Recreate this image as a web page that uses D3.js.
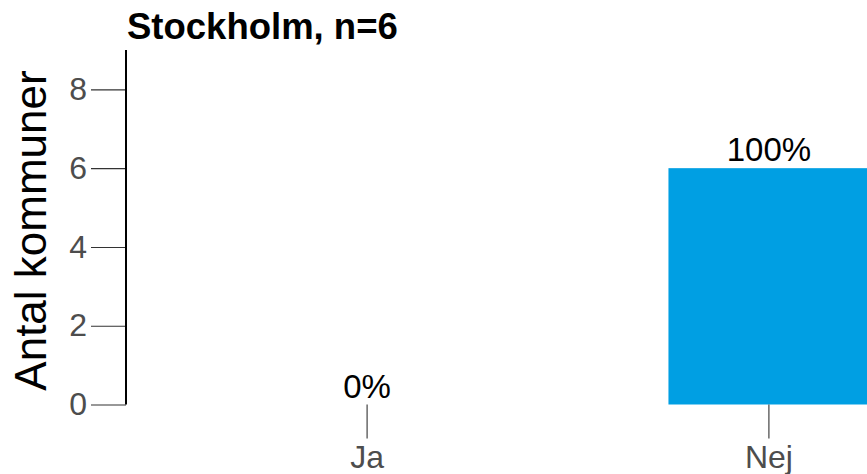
<!DOCTYPE html>
<html>
<head>
<meta charset="utf-8">
<script src="https://cdn.jsdelivr.net/npm/d3@7"></script>
<style>
  html, body { margin: 0; padding: 0; background: #ffffff; }
  svg { display: block; font-family: "Liberation Sans", Arial, Helvetica, sans-serif; }
</style>
</head>
<body>
<svg id="chart" width="867" height="474"></svg>
<script>
// Svar per kategori (antal kommuner)
const categories = ["Ja", "Nej"];
const counts = [0, 6];
const percentLabels = ["0%", "100%"];
const yTicks = [0, 2, 4, 6, 8];
const chartTitle = "Stockholm, n=6";
const yTitle = "Antal kommuner";

const svg = d3.select("#chart");

const y = d3.scaleLinear().domain([0, 9]).range([404.5, 50]);
const x = d3.scaleBand()
  .domain(categories)
  .range([126, 1010])
  .paddingInner(0.5)
  .paddingOuter(0.35);

// bars
svg.append("g")
  .selectAll("rect")
  .data(categories)
  .join("rect")
  .attr("x", d => x(d))
  .attr("width", x.bandwidth())
  .attr("y", (d, i) => y(counts[i]))
  .attr("height", (d, i) => y(0) - y(counts[i]))
  .attr("fill", "#009fe3");

// percentage labels above bars
svg.append("g")
  .selectAll("text")
  .data(categories)
  .join("text")
  .attr("x", d => x(d) + x.bandwidth() / 2)
  .attr("y", (d, i) => y(counts[i]) - 7)
  .attr("text-anchor", "middle")
  .attr("font-size", 33)
  .attr("fill", "#000")
  .text((d, i) => percentLabels[i]);

// y axis
const yAxis = svg.append("g")
  .attr("transform", "translate(126,0)")
  .call(d3.axisLeft(y).tickValues(yTicks).tickSize(35).tickPadding(4).tickFormat(d3.format("d")));
yAxis.select(".domain").remove();
yAxis.selectAll(".tick line").attr("stroke", "#333333").attr("stroke-width", 1.1);
yAxis.selectAll(".tick text")
  .attr("font-size", 32)
  .attr("fill", "#4d4d4d")
  .attr("font-family", null);
svg.append("line")
  .attr("x1", 126).attr("x2", 126)
  .attr("y1", y(9)).attr("y2", y(0))
  .attr("stroke", "#000").attr("stroke-width", 2);

// x axis (ticks and labels only)
const xAxis = svg.append("g")
  .attr("transform", `translate(0,${y(0)})`)
  .call(d3.axisBottom(x).tickSize(34).tickPadding(7));
xAxis.select(".domain").remove();
xAxis.selectAll(".tick line").attr("stroke", "#333333").attr("stroke-width", 1.1);
xAxis.selectAll(".tick text")
  .attr("font-size", 32)
  .attr("fill", "#4d4d4d")
  .attr("font-family", null);

// titles
svg.append("text")
  .attr("x", 127)
  .attr("y", 39)
  .attr("font-size", 36.5)
  .attr("font-weight", "bold")
  .attr("fill", "#000")
  .text(chartTitle);

svg.append("text")
  .attr("transform", `translate(46,${(72 + 389) / 2}) rotate(-90)`)
  .attr("text-anchor", "middle")
  .attr("font-size", 44)
  .attr("fill", "#000")
  .text(yTitle);
</script>
</body>
</html>
